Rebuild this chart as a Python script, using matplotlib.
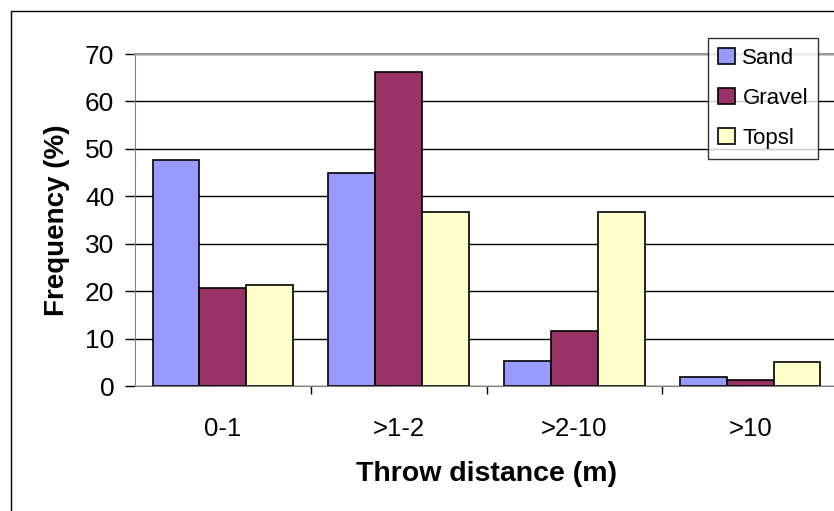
import numpy as np
import matplotlib.pyplot as plt
from matplotlib.patches import Rectangle

plt.rcParams['font.family'] = ['Liberation Sans', 'DejaVu Sans']

# datos
categorias = ['0-1', '>1-2', '>2-10', '>10']
sand = [47.6, 45.0, 5.3, 2.0]
gravel = [20.6, 66.1, 11.7, 1.2]
topsl = [21.4, 36.6, 36.6, 5.1]

series = [('Sand', sand, '#9999FF'),
          ('Gravel', gravel, '#993366'),
          ('Topsl', topsl, '#FFFFCC')]

W, H = 834, 511
fig = plt.figure(figsize=(W / 100, H / 100), dpi=100)

# marco exterior del gráfico (cortado a la derecha y abajo)
fig.patches.append(Rectangle((11 / W, -0.1), 1.2, 1.1 - 11 / H,
                             transform=fig.transFigure, fill=False,
                             edgecolor='black', linewidth=1))

ax = fig.add_axes([135 / W, (H - 386) / H, (838 - 135) / W, (386 - 54) / H])

x = np.arange(len(categorias))
w = 1 / 3.75
for j, (nombre, vals, color) in enumerate(series):
    ax.bar(x + (j - 1) * w, vals, width=w, color=color, edgecolor='black',
           linewidth=1.2, label=nombre, zorder=3)

ax.set_xlim(-0.5, len(categorias) - 0.5)
ax.set_ylim(0, 70)
ax.set_yticks(range(0, 71, 10))
ax.yaxis.grid(True, color='black', linewidth=1, zorder=0)
ax.set_axisbelow(True)

ax.set_xticks(x)
ax.set_xticklabels(categorias)
ax.set_xticks(x[:-1] + 0.5, minor=True)
ax.tick_params(axis='x', which='major', length=0, pad=22, labelsize=18.5)
ax.tick_params(axis='x', which='minor', length=6, width=1, direction='out')
ax.tick_params(axis='y', length=7, width=1, pad=8, labelsize=19)

ax.spines['right'].set_visible(False)
ax.spines['top'].set_color('#999999')
ax.spines['top'].set_linewidth(1.5)
ax.spines['left'].set_color('#808080')
ax.spines['bottom'].set_color('#808080')

ax.set_xlabel('Throw distance (m)', fontsize=20.5, fontweight='bold', labelpad=15)
ax.set_ylabel('Frequency (%)', fontsize=20, fontweight='bold', labelpad=11)

leg = ax.legend(loc='upper left', bbox_to_anchor=(708 / W, 1 - 38 / H),
                bbox_transform=fig.transFigure, borderaxespad=0,
                fontsize=16, handlelength=0.75, handleheight=0.75,
                handletextpad=0.35, labelspacing=0.85, borderpad=0.45,
                fancybox=False, frameon=True)
leg.get_frame().set_edgecolor('black')
leg.get_frame().set_linewidth(1)

fig.savefig('out.png', dpi=100)
